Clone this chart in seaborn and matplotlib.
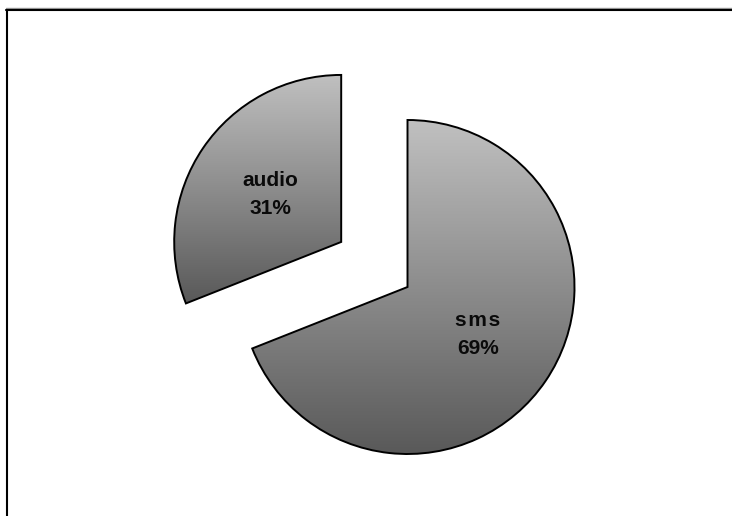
import numpy as np
import matplotlib
matplotlib.use("Agg")
import matplotlib.pyplot as plt
import seaborn as sns
from matplotlib.colors import LinearSegmentedColormap

# data
categories = ["sms", "audio"]
shares = [69, 31]
explode = [0.0, 0.48]   # fraction of radius

sns.set_theme(style="white")
plt.rcParams["font.family"] = ["Liberation Sans", "DejaVu Sans"]

W, H = 732, 516
R = 167
fig = plt.figure(figsize=(W / 100, H / 100), dpi=100)
ax = fig.add_axes([0, 0, 1, 1])

# light grey at the top of each slice, dark grey at the bottom
grey = LinearSegmentedColormap.from_list("grey", ["#595959", "#c0c0c0"])

total = sum(shares)
labels = []
for name, v in zip(categories, shares):
    pct = round(v / total * 100)
    shown = "\u200a".join(name) if name == "sms" else name
    labels.append(f"{shown}\n{pct}%")

# pie's explode works in data units, so scale by the radius
wedges, texts = ax.pie(
    shares,
    labels=labels,
    explode=[e * R for e in explode],
    startangle=90,
    counterclock=False,
    center=(407.5, 229),
    radius=R,
    labeldistance=0.51,
    wedgeprops=dict(facecolor="none", edgecolor="black", linewidth=1.4, zorder=3),
    textprops=dict(fontsize=15, fontweight="bold", color="#0a0a0a",
                   linespacing=1.6, zorder=4),
)

for t in texts:
    t.set_horizontalalignment("center")
    t.set_verticalalignment("center")
    t.set_multialignment("center")

# gradient fill, clipped to each wedge
grad = np.linspace(0, 1, 256).reshape(-1, 1)
for w in wedges:
    bb = w.get_path().get_extents(w.get_transform() - ax.transData)
    im = ax.imshow(grad, cmap=grey, origin="lower", aspect="auto",
                   extent=(bb.x0, bb.x1, bb.y0, bb.y1), zorder=2)
    im.set_clip_path(w)

ax.set_xlim(0, W)
ax.set_ylim(0, H)
ax.set_aspect("auto")
ax.axis("off")

# chart area border (only top and left visible)
ax.plot([6, W], [H - 8, H - 8], color="#999999", lw=1, zorder=5)
ax.plot([6, W], [H - 9.5, H - 9.5], color="black", lw=1.5, zorder=5)
ax.plot([6.5, 6.5], [0, H - 9.5], color="black", lw=1.5, zorder=5)

fig.savefig("out.png", dpi=100, facecolor="white")
